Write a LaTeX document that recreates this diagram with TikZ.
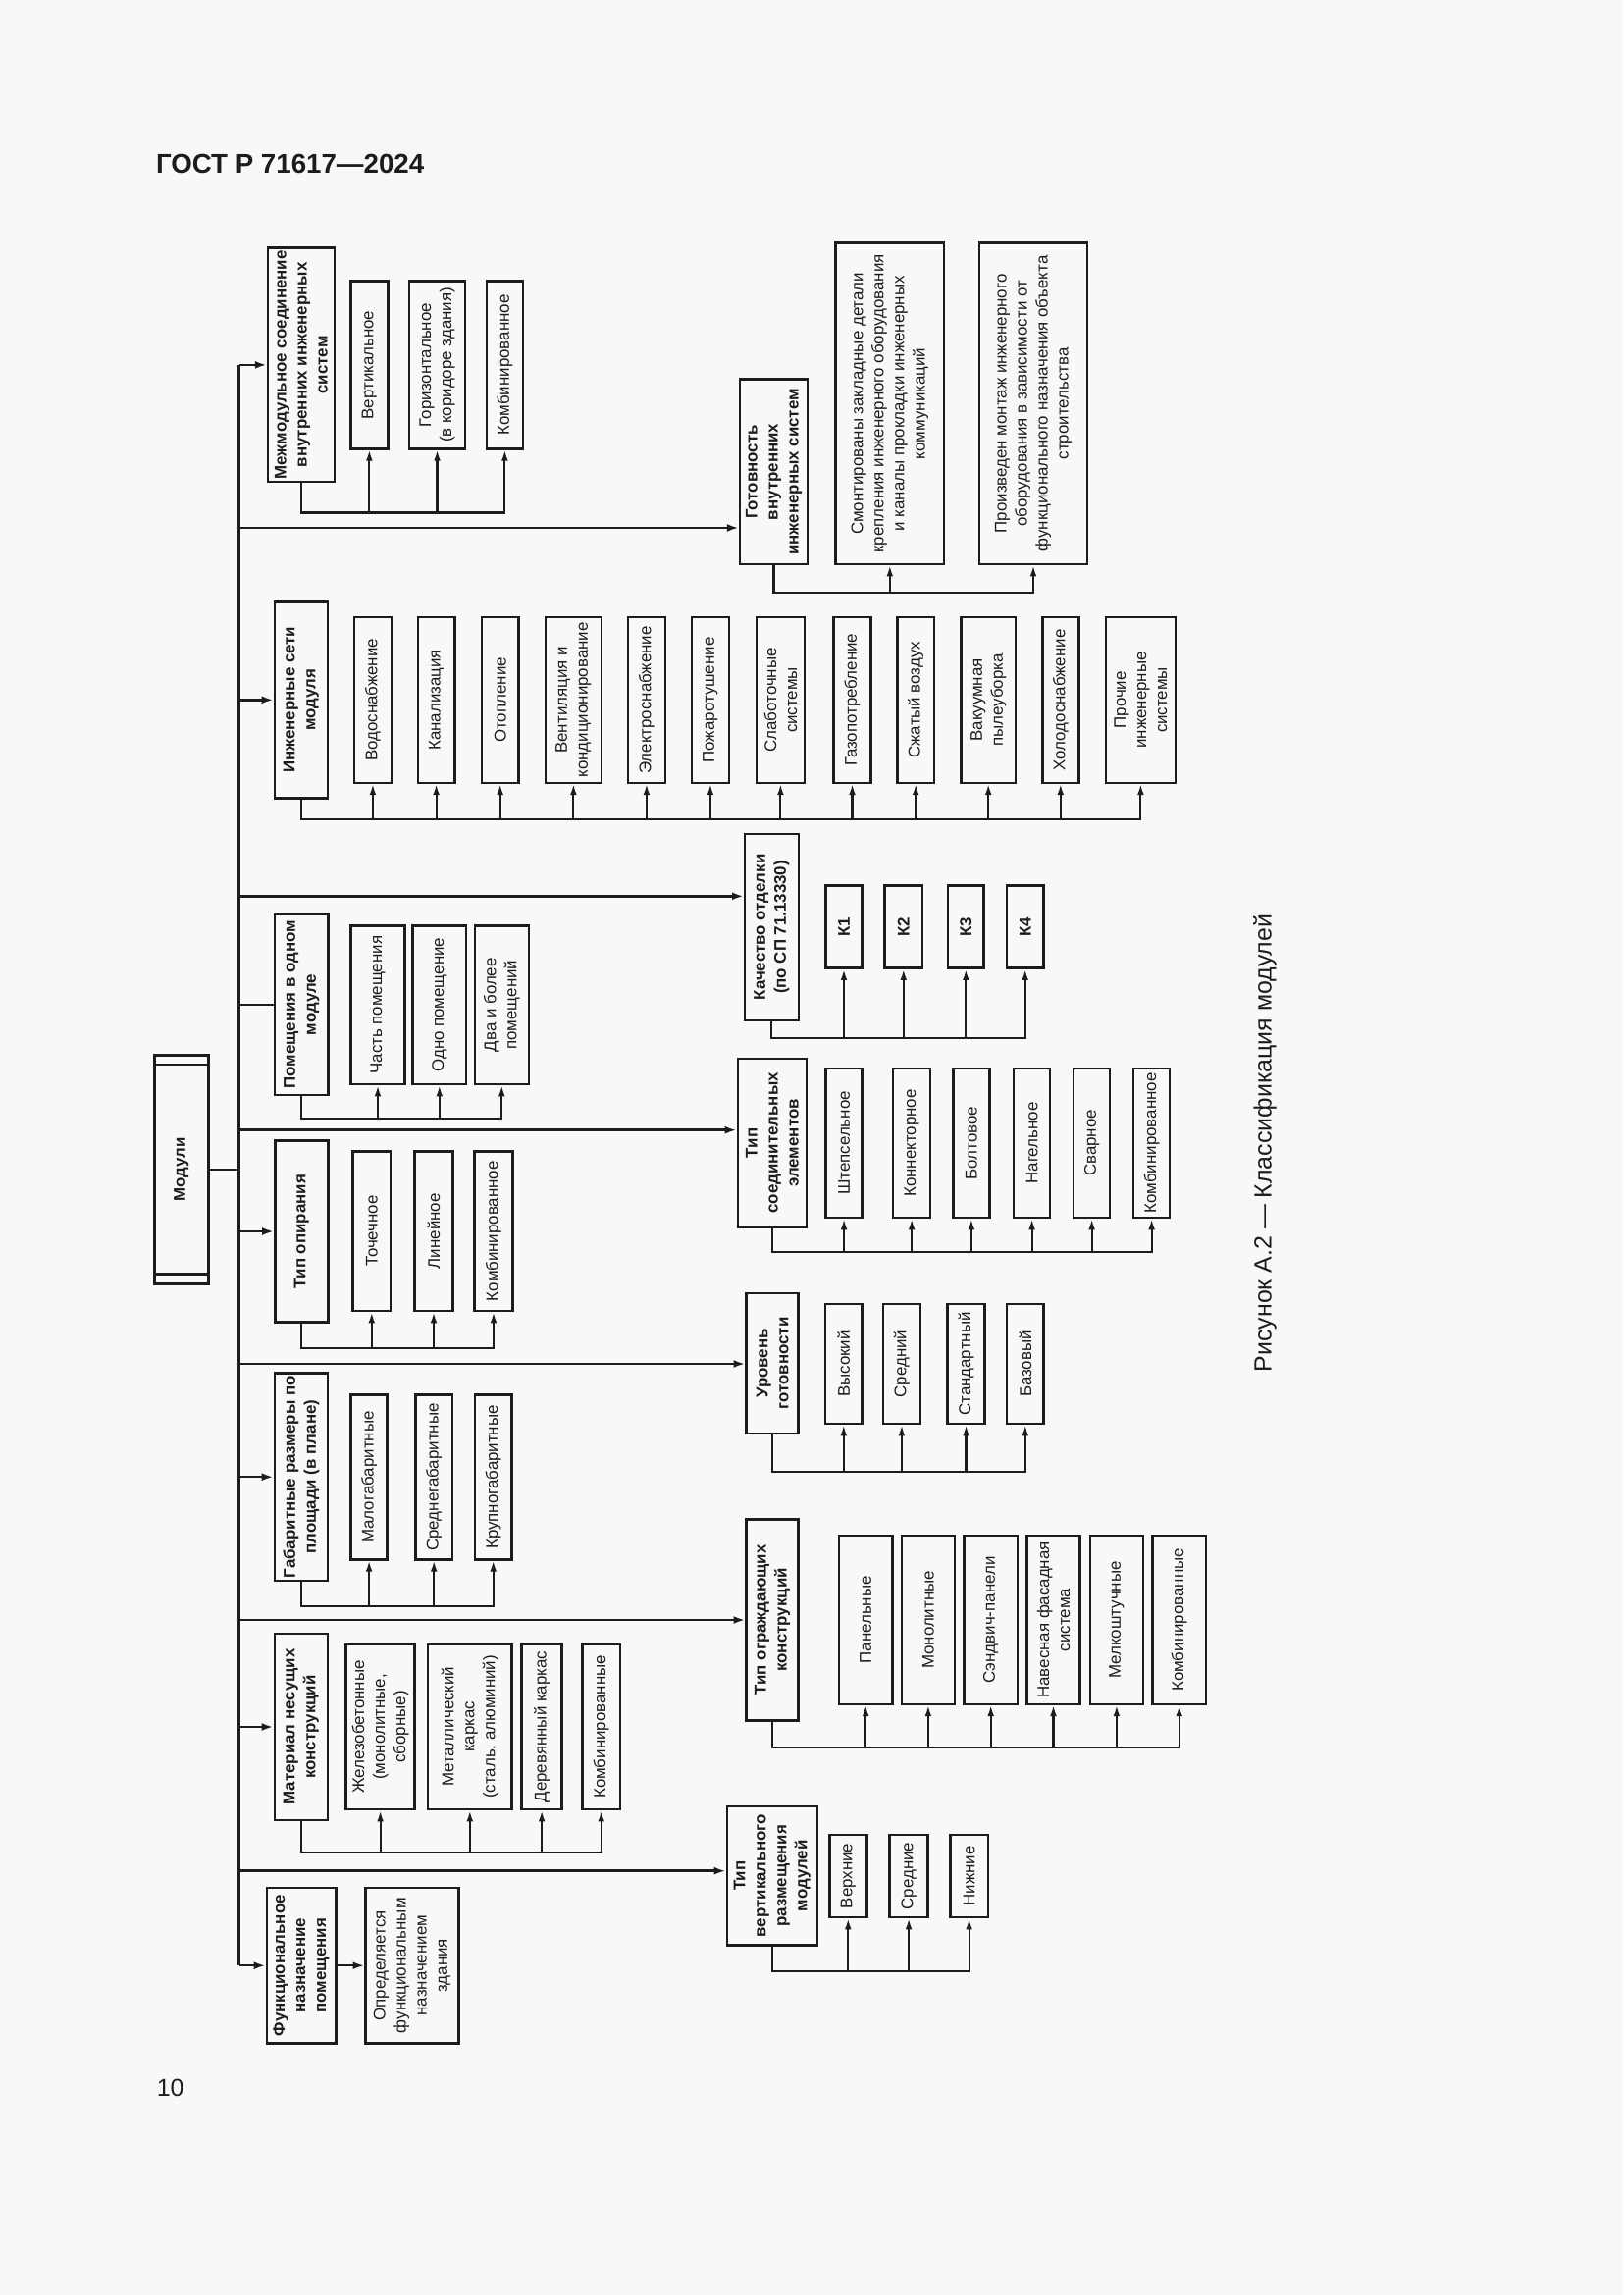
\documentclass[tikz,border=0pt]{standalone}
\usepackage{fontspec}
\setmainfont{Liberation Sans}
\usetikzlibrary{arrows.meta}
\definecolor{pagebg}{RGB}{248,248,248}
\definecolor{ink}{RGB}{28,28,28}
\newcommand{\upx}{0.0126965cm}
\tikzset{
  blk/.style={draw=ink, text=ink, line width=0.9pt, rotate=90, align=center, inner sep=1pt, font=\fontsize{6.1}{7.6}\selectfont},
  head/.style={blk, font=\fontsize{6.1}{7.6}\selectfont\bfseries},
  wh/.style 2 args={minimum width=#2*\upx, minimum height=#1*\upx},
  bus/.style={draw=ink, line width=0.9pt},
  feed/.style={bus, -{Latex[length=1.5mm,width=1mm]}},
  sub/.style={draw=ink, line width=0.75pt, -{Latex[length=1.4mm,width=0.85mm]}},
}

\begin{document}
\begin{tikzpicture}[x=\upx, y=-\upx]
        \fill[pagebg] (0,0) rectangle (1654,2339);
        \node (gost) [anchor=base west, inner sep=0pt, text=ink, font=\fontsize{10}{12}\selectfont\bfseries] at (158.5,176.7) {ГОСТ Р 71617—2024};
        \node (pgno) [anchor=base west, inner sep=0pt, text=ink, font=\fontsize{9}{11}\selectfont] at (159.3,2136.7) {10};
        \node (cap) [rotate=90, text=ink, font=\fontsize{9}{11}\selectfont] at (1289,1165) {Рисунок А.2 — Классификация модулей};

        % root
        \node (mod) [head, wh={54.8}{232.6}] at (184.9,1192) {Модули};
        \draw[bus] (mod.north east) ++(0,10.3) -- ++(54.8,0);
        \draw[bus] (mod.north west) ++(0,-11) -- ++(54.8,0);

        % left column
        \node (link) [head, wh={67.8}{238.3}] at (306.9,371.9) {Межмодульное соединение\\внутренних инженерных\\систем};
        \node (link1) [blk, wh={37.9}{170.6}] at (376.4,372) {Вертикальное};
        \node (link2) [blk, wh={57}{170.6}] at (445.5,372) {Горизонтальное\\(в коридоре здания)};
        \node (link3) [blk, wh={37.2}{170.6}] at (514.4,372) {Комбинированное};

        \node (net) [head, wh={54.3}{200}] at (306.9,713.3) {Инженерные сети\\модуля};
        \node (net1) [blk, wh={38.3}{168.7}] at (379.9,713.4) {Водоснабжение};
        \node (net2) [blk, wh={37.6}{168.7}] at (444.6,713.4) {Канализация};
        \node (net3) [blk, wh={37.6}{168.7}] at (509.7,713.4) {Отопление};
        \node (net4) [blk, wh={56.7}{168.7}] at (584.4,713.4) {Вентиляция и\\кондиционирование};
        \node (net5) [blk, wh={37.7}{168.7}] at (658.9,713.4) {Электроснабжение};
        \node (net6) [blk, wh={37.8}{168.7}] at (723.9,713.4) {Пожаротушение};
        \node (net7) [blk, wh={49.2}{168.7}] at (795.4,713.4) {Слаботочные\\системы};
        \node (net8) [blk, wh={38.3}{168.7}] at (868.5,713.4) {Газопотребление};
        \node (net9) [blk, wh={37.6}{168.7}] at (933.2,713.4) {Сжатый воздух};
        \node (net10) [blk, wh={55.6}{168.7}] at (1007.2,713.4) {Вакуумная\\пылеуборка};
        \node (net11) [blk, wh={37}{168.7}] at (1080.8,713.4) {Холодоснабжение};
        \node (net12) [blk, wh={71.2}{168.7}] at (1162.4,713.4) {Прочие\\инженерные\\системы};

        \node (room) [head, wh={54.5}{184.3}] at (307.3,1023.9) {Помещения в одном\\модуле};
        \node (room1) [blk, wh={55.1}{161.7}] at (385,1024.2) {Часть помещения};
        \node (room2) [blk, wh={54.4}{161.7}] at (447.8,1024.2) {Одно помещение};
        \node (room3) [blk, wh={55.1}{161.7}] at (511.3,1024.2) {Два и более\\помещений};

        \node (supp) [head, wh={54}{184.6}] at (307.3,1255) {Тип опирания};
        \node (supp1) [blk, wh={38.4}{162.7}] at (378.8,1254.7) {Точечное};
        \node (supp2) [blk, wh={38.6}{162.7}] at (442,1254.7) {Линейное};
        \node (supp3) [blk, wh={38.6}{162.7}] at (503,1254.7) {Комбинированное};

        \node (size) [head, wh={54.3}{205}] at (306.9,1505.2) {Габаритные размеры по\\площади (в плане)};
        \node (size1) [blk, wh={37}{167.6}] at (376.1,1505.5) {Малогабаритные};
        \node (size2) [blk, wh={37.7}{167.6}] at (442.2,1505.5) {Среднегабаритные};
        \node (size3) [blk, wh={37.7}{167.6}] at (502.7,1505.5) {Крупногабаритные};

        \node (mat) [head, wh={54.3}{190}] at (306.9,1760) {Материал несущих\\конструкций};
        \node (mat1) [blk, wh={70.1}{168.3}] at (387.6,1759.9) {Железобетонные\\(монолитные,\\сборные)};
        \node (mat2) [blk, wh={85.5}{168.3}] at (478.8,1759.9) {Металлический\\каркас\\(сталь, алюминий)};
        \node (mat3) [blk, wh={40.8}{168.3}] at (552.1,1759.9) {Деревянный каркас};
        \node (mat4) [blk, wh={38.3}{168.3}] at (612.7,1759.9) {Комбинированные};

        \node (func) [head, wh={70.5}{158.3}] at (307,2003.2) {Функциональное\\назначение\\помещения};
        \node (func1) [blk, wh={94.8}{158.3}] at (420,2003.2) {Определяется\\функциональным\\назначением\\здания};

        % right column
        \node (ready) [head, wh={69}{188.3}] at (788.5,480.9) {Готовность\\внутренних\\инженерных систем};
        \node (ready1) [blk, wh={110.4}{327.3}] at (906.8,411.4) {Смонтированы закладные детали\\крепления инженерного оборудования\\и каналы прокладки инженерных\\коммуникаций};
        \node (ready2) [blk, wh={110}{327.3}] at (1053,411.4) {Произведен монтаж инженерного\\оборудования в зависимости от\\функционального назначения объекта\\строительства};

        \node (fin) [head, wh={54.7}{190}] at (786.4,945) {Качество отделки\\(по СП 71.13330)};
        \node (fin1) [head, wh={37.3}{84}] at (860,944.7) {К1};
        \node (fin2) [head, wh={38.4}{84}] at (920.8,944.7) {К2};
        \node (fin3) [head, wh={36.6}{84}] at (984.3,944.7) {К3};
        \node (fin4) [head, wh={37.4}{84}] at (1044.7,944.7) {К4};

        \node (joint) [head, wh={70.3}{172.3}] at (786.9,1164.9) {Тип\\соединительных\\элементов};
        \node (joint1) [blk, wh={37.2}{152}] at (860.1,1165) {Штепсельное};
        \node (joint2) [blk, wh={37.8}{152}] at (929.1,1165) {Коннекторное};
        \node (joint3) [blk, wh={37.2}{152}] at (989.9,1165) {Болтовое};
        \node (joint4) [blk, wh={37.2}{152}] at (1051.6,1165) {Нагельное};
        \node (joint5) [blk, wh={37.2}{152}] at (1112.6,1165) {Сварное};
        \node (joint6) [blk, wh={37.2}{152}] at (1173.6,1165) {Комбинированное};

        \node (lvl) [head, wh={53}{143.3}] at (787.1,1389.4) {Уровень\\готовности};
        \node (lvl1) [blk, wh={37.6}{122}] at (859.8,1390) {Высокий};
        \node (lvl2) [blk, wh={38.3}{122}] at (918.9,1390) {Средний};
        \node (lvl3) [blk, wh={38.2}{122}] at (984.5,1390) {Стандартный};
        \node (lvl4) [blk, wh={37.6}{122}] at (1044.8,1390) {Базовый};

        \node (wall) [head, wh={53}{205}] at (787.1,1650.8) {Тип ограждающих\\конструкций};
        \node (wall1) [blk, wh={54.3}{171.7}] at (882.2,1650.9) {Панельные};
        \node (wall2) [blk, wh={54.2}{171.7}] at (945.9,1650.9) {Монолитные};
        \node (wall3) [blk, wh={54.2}{171.7}] at (1009.7,1650.9) {Сэндвич-панели};
        \node (wall4) [blk, wh={54.2}{171.7}] at (1073.5,1650.9) {Навесная фасадная\\система};
        \node (wall5) [blk, wh={54.2}{171.7}] at (1137.9,1650.9) {Мелкоштучные};
        \node (wall6) [blk, wh={54.2}{171.7}] at (1201.7,1650.9) {Комбинированные};

        \node (vert) [head, wh={92.1}{141.3}] at (786.8,1911.7) {Тип\\вертикального\\размещения\\модулей};
        \node (vert1) [blk, wh={37.9}{84}] at (864.3,1912) {Верхние};
        \node (vert2) [blk, wh={39.1}{84}] at (926.1,1912) {Средние};
        \node (vert3) [blk, wh={38.5}{84}] at (987.6,1912) {Нижние};

        % spine and branches
        \coordinate (spT) at (243.5,371.9);
        \coordinate (spB) at (243.5,2003.2);
        \coordinate (br1) at (243.5,538);
        \coordinate (br2) at (243.5,913.3);
        \coordinate (br3) at (243.5,1151.7);
        \coordinate (br4) at (243.5,1390);
        \coordinate (br5) at (243.5,1651);
        \coordinate (br6) at (243.5,1906.7);
        \draw[bus] (spT) -- (spB);
        \draw[bus] (mod.south) -- (mod.south -| spT);
        \foreach \n in {link,net,supp,size,mat,func}
                \draw[feed] (spT |- \n) -- (\n.north);
        \draw[bus] (spT |- room) -- (room.north);
        \draw[feed] (func.south) -- (func1.north);
        \foreach \b/\n in {br1/ready,br2/fin,br3/joint,br4/lvl,br5/wall,br6/vert}
                \draw[feed] (\b) -- (\b -| \n.north);

        % brackets
        \foreach \c in {link1,link2,link3}
                \draw[sub] (link.west) -- ++(0,30) -| (\c.west);
        \foreach \c in {net1,net2,net3,net4,net5,net6,net7,net8,net9,net10,net11,net12}
                \draw[sub] (net.west) -- ++(0,20) -| (\c.west);
        \foreach \c in {room1,room2,room3}
                \draw[sub] (room.west) -- ++(0,22.5) -| (\c.west);
        \foreach \c in {supp1,supp2,supp3}
                \draw[sub] (supp.west) -- ++(0,25) -| (\c.west);
        \foreach \c in {size1,size2,size3}
                \draw[sub] (size.west) -- ++(0,25) -| (\c.west);
        \foreach \c in {mat1,mat2,mat3,mat4}
                \draw[sub] (mat.west) -- ++(0,32) -| (\c.west);
        \foreach \c in {ready1,ready2}
                \draw[sub] (ready.west) -- ++(0,28) -| (\c.west);
        \foreach \c in {fin1,fin2,fin3,fin4}
                \draw[sub] (fin.west) -- ++(0,16.7) -| (\c.west);
        \foreach \c in {joint1,joint2,joint3,joint4,joint5,joint6}
                \draw[sub] (joint.west) -- ++(0,24) -| (\c.west);
        \foreach \c in {lvl1,lvl2,lvl3,lvl4}
                \draw[sub] (lvl.west) -- ++(0,38) -| (\c.west);
        \foreach \c in {wall1,wall2,wall3,wall4,wall5,wall6}
                \draw[sub] (wall.west) -- ++(0,26) -| (\c.west);
        \foreach \c in {vert1,vert2,vert3}
                \draw[sub] (vert.west) -- ++(0,25.4) -| (\c.west);
\end{tikzpicture}
\end{document}
